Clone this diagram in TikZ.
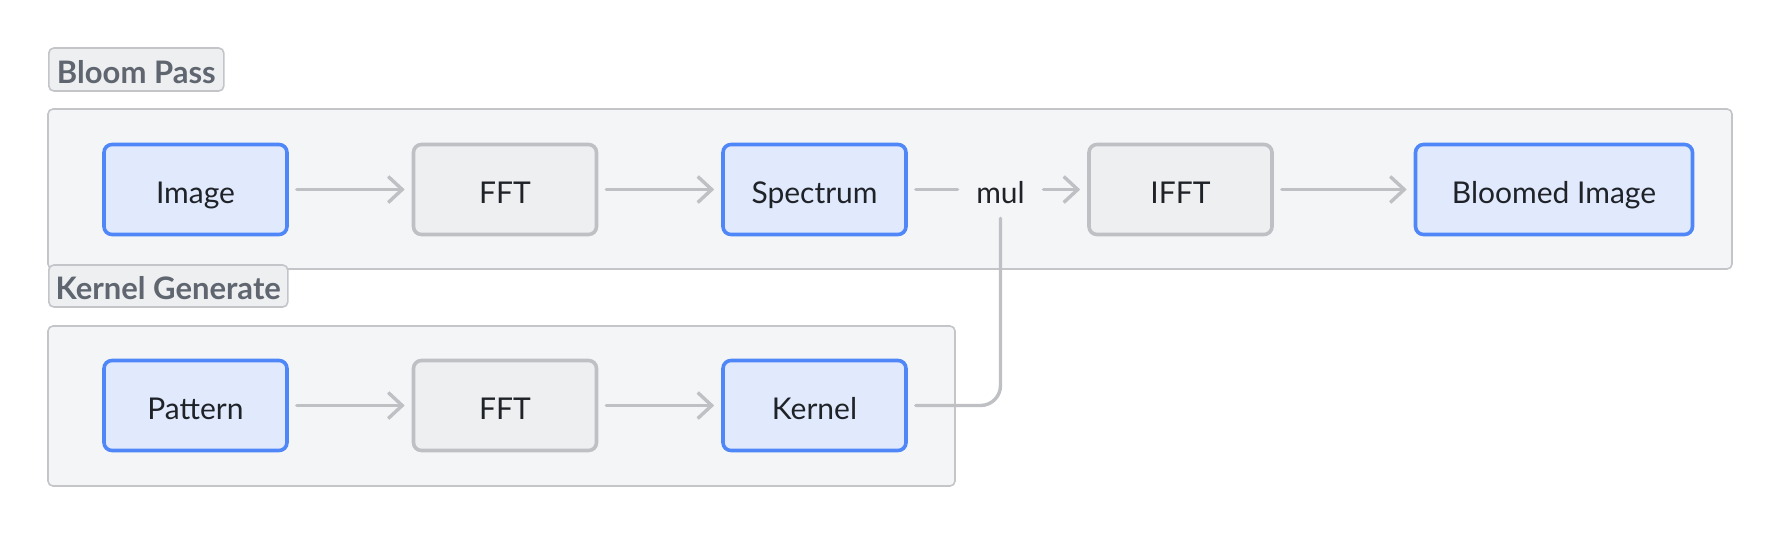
\documentclass[tikz,border=0pt]{standalone}
\usepackage{fontspec}
\setmainfont{Lato}
\usetikzlibrary{arrows.meta}

\definecolor{datafill}{HTML}{E1E9FD}
\definecolor{datadraw}{HTML}{4F87F8}
\definecolor{opfill}{HTML}{EEEFF1}
\definecolor{opdraw}{HTML}{BEC0C4}
\definecolor{groupfill}{HTML}{F4F5F7}
\definecolor{groupdraw}{HTML}{C3C5C9}
\definecolor{labeltext}{HTML}{5F6670}
\definecolor{nodetext}{HTML}{1F2328}

\tikzset{
    textbox/.style={text height=13.8pt, text depth=0pt, text=nodetext, font=\fontsize{15}{18}\selectfont},
    datanode/.style={textbox, draw=datadraw, fill=datafill, line width=1.8pt, rounded corners=4pt,
        minimum width=91.5pt, minimum height=45pt},
    opnode/.style={datanode, draw=opdraw, fill=opfill},
    groupbox/.style={draw=groupdraw, fill=groupfill, line width=0.8pt, rounded corners=2.5pt},
    grouplabel/.style={textbox, draw=groupdraw, fill=opfill, line width=0.8pt, rounded corners=2.5pt,
        text=labeltext, font=\bfseries\fontsize{15.5}{18}\selectfont, inner sep=0pt, anchor=west},
    flow/.style={draw=opdraw, line width=1.7pt, line cap=round,
        -{Straight Barb[length=7pt, width=13pt, line width=1.7pt]}, shorten <=4pt, shorten >=3.5pt},
}

\begin{document}
\begin{tikzpicture}[x=0.5pt, y=-0.5pt]
    \useasboundingbox (0,0) rectangle (1782,536);

    % groups
    \draw[groupbox] (48,109) rectangle (1732,269);
    \node[grouplabel, minimum width=87.5pt, minimum height=21.5pt] (bloomlabel) at (48,69.5) {Bloom Pass};
    \draw[groupbox] (48,326) rectangle (955,486);
    \node[grouplabel, minimum width=119.5pt, minimum height=21pt] (kernellabel) at (48,286) {Kernel Generate};

    % bloom pass
    \node[datanode] (image) at (195.5,189.5) {Image};
    \node[opnode] (fft) at (505,189.5) {FFT};
    \node[datanode] (spectrum) at (814.5,189.5) {Spectrum};
    \node[textbox, minimum width=42.5pt, minimum height=28.5pt, inner sep=0pt] (mul) at (1000.5,189.5) {mul};
    \node[opnode] (ifft) at (1180.5,189.5) {IFFT};
    \node[datanode, minimum width=138.5pt] (bloomed) at (1554,189.5) {Bloomed Image};

    % kernel generate
    \node[datanode] (pattern) at (195.5,405.5) {Pattern};
    \node[opnode] (fft2) at (505,405.5) {FFT};
    \node[datanode] (kernel) at (814.5,405.5) {Kernel};

    \draw[flow] (image) -- (fft);
    \draw[flow] (fft) -- (spectrum);
    \draw[flow, -, shorten >=0pt] (spectrum) -- (mul);
    \draw[flow, shorten <=0pt] (mul) -- (ifft);
    \draw[flow] (ifft) -- (bloomed);

    \draw[flow] (pattern) -- (fft2);
    \draw[flow] (fft2) -- (kernel);
    \draw[flow, -, shorten >=0pt, rounded corners=10pt] (kernel.east) -| (mul.south);
\end{tikzpicture}
\end{document}
